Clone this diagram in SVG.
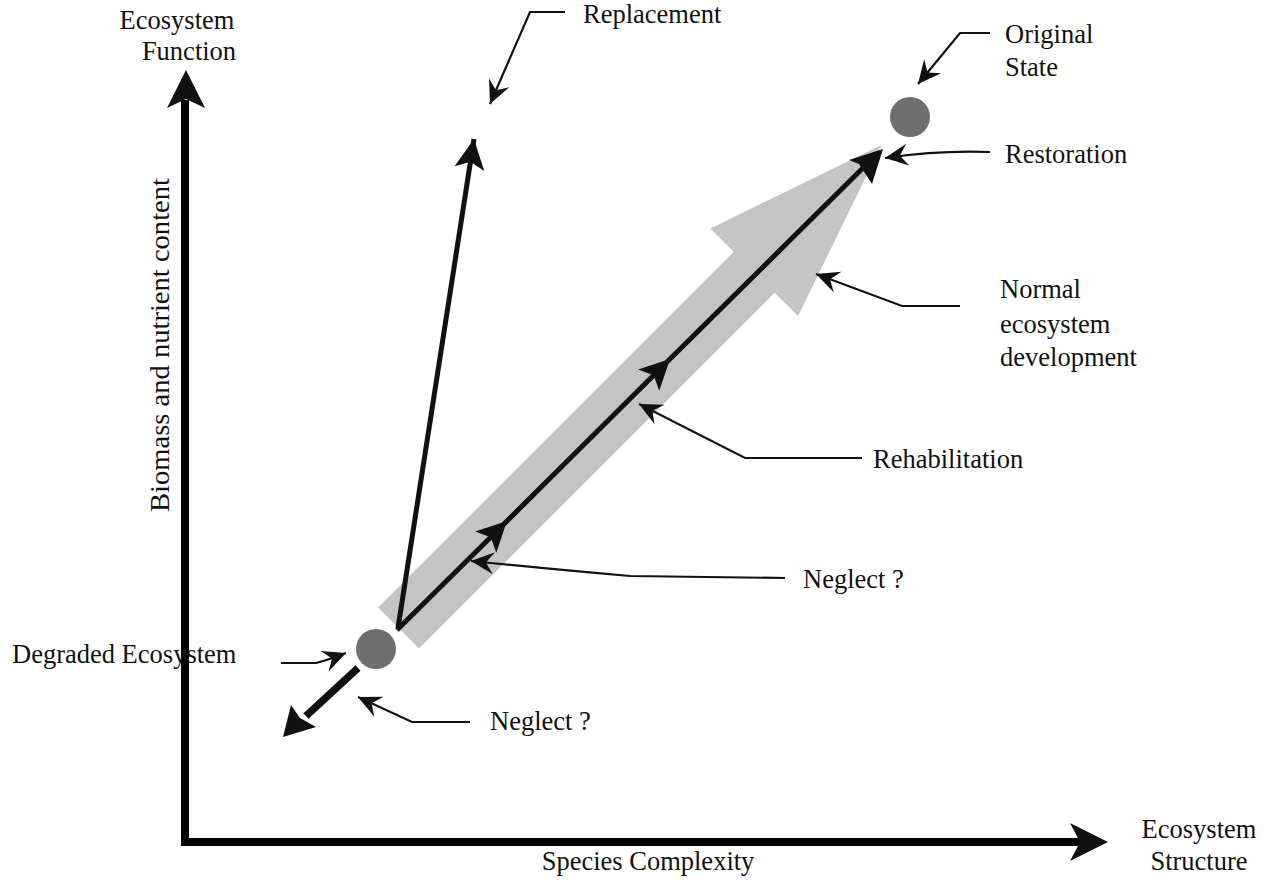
<svg xmlns="http://www.w3.org/2000/svg" width="1264" height="882" viewBox="0 0 1264 882">
<style>
.lbl{font-family:"Liberation Serif","Times New Roman",serif;font-size:26.5px;fill:#111}
.lead{fill:none;stroke:#111;stroke-width:2.2}
.thick{fill:none;stroke:#111;stroke-width:5}
.axis{fill:none;stroke:#000;stroke-width:8}
.head{fill:#111}
.dot{fill:#6f6f6f}
</style>
<defs>
<marker id="mLead" markerUnits="userSpaceOnUse" viewBox="-26 -13 28 26" markerWidth="28" markerHeight="26" refX="0" refY="0" orient="auto">
<path d="M0,0 L-23,-11 L-15,0 L-23,11 z" fill="#111"/>
</marker>
<marker id="mBig" markerUnits="userSpaceOnUse" viewBox="-32 -17 34 34" markerWidth="34" markerHeight="34" refX="0" refY="0" orient="auto">
<path d="M0,0 L-30,-15 L-23,0 L-30,15 z" fill="#111"/>
</marker>
</defs>
<rect width="1264" height="882" fill="#fff"/>

<g id="axes">
<path class="axis" d="M185,846 L185,100"/>
<path class="head" d="M186,70 L205,108 L186,99 L167,108 z"/>
<path class="axis" d="M181,842 L1080,842"/>
<path class="head" d="M1108,842 L1070,861 L1080,842 L1070,823 z"/>
</g>

<g id="normal-development-arrow">
<polygon points="378,607.5 733.7,251.8 710.4,228.5 881.5,145 798,316.1 774.7,292.8 419,648.5" fill="#c4c4c4"/>
</g>

<g id="degraded-ecosystem">
<circle class="dot" cx="376" cy="649" r="20"/>
</g>
<g id="original-state">
<circle class="dot" cx="910" cy="117" r="20"/>
</g>

<g id="connectors">
<polyline class="thick" points="397,630 507,521 670,359 872,159" marker-mid="url(#mBig)"/>
<path class="head" d="M883,149 L849,160 L859,164 L872,184 z"/>
<path class="thick" d="M398,628 L474,139" marker-end="url(#mBig)"/>
<path d="M358,668 L306,716" fill="none" stroke="#111" stroke-width="7.5"/>
<path class="head" d="M283,737 L291,705 L300,718 L316,727 z"/>

<path class="lead" d="M565,12 L530,12 L490,104" marker-end="url(#mLead)"/>
<path class="lead" d="M990,33 L960,33 L918,84" marker-end="url(#mLead)"/>
<path class="lead" d="M990,152 Q940,150 885,158" marker-end="url(#mLead)"/>
<path class="lead" d="M960,306 L902,306 L816,274" marker-end="url(#mLead)"/>
<path class="lead" d="M862,458 L745,458 L639,404" marker-end="url(#mLead)"/>
<path class="lead" d="M785,578 L630,576 Q560,570 471,561" marker-end="url(#mLead)"/>
<path class="lead" d="M281,663 L316,663 Q328,660 346,653" marker-end="url(#mLead)"/>
<path class="lead" d="M470,722 L412,722 L358,697" marker-end="url(#mLead)"/>
</g>

<g id="labels">
<text class="lbl" x="177" y="29" text-anchor="middle">Ecosystem</text>
<text class="lbl" x="189" y="60" text-anchor="middle">Function</text>
<text class="lbl" x="583" y="23">Replacement</text>
<text class="lbl" x="1005" y="43">Original</text>
<text class="lbl" x="1005" y="76">State</text>
<text class="lbl" x="1005" y="163">Restoration</text>
<text class="lbl" x="1000" y="298">Normal</text>
<text class="lbl" x="1000" y="333">ecosystem</text>
<text class="lbl" x="1000" y="366">development</text>
<text class="lbl" x="873" y="468">Rehabilitation</text>
<text class="lbl" x="803" y="588">Neglect ?</text>
<text class="lbl" x="12" y="663">Degraded Ecosystem</text>
<text class="lbl" x="490" y="730">Neglect ?</text>
<text class="lbl" x="169" y="345" text-anchor="middle" transform="rotate(-90 169 345)" textLength="334" lengthAdjust="spacingAndGlyphs">Biomass and nutrient content</text>
<text class="lbl" x="648" y="870" text-anchor="middle">Species Complexity</text>
<text class="lbl" x="1199" y="838" text-anchor="middle">Ecosystem</text>
<text class="lbl" x="1199" y="870" text-anchor="middle">Structure</text>
</g>
</svg>
